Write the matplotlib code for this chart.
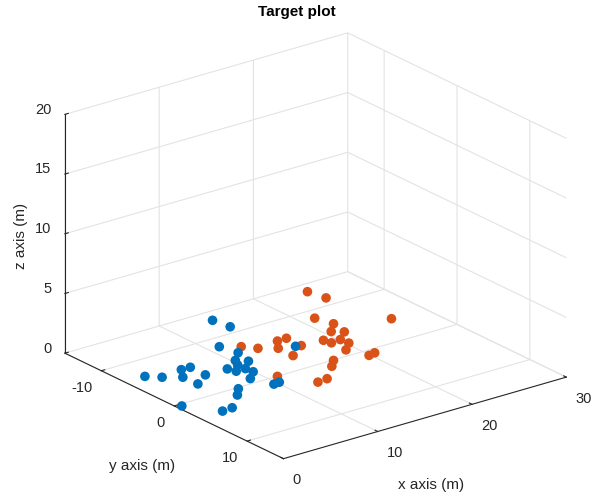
import matplotlib
matplotlib.use("Agg")
import matplotlib.pyplot as plt
import numpy as np

plt.rcParams['font.family'] = ['Liberation Sans', 'DejaVu Sans']
plt.rcParams['axes.unicode_minus'] = False

# target positions (m), two groups
blue_x = [9.4, 10.5, 9.5, 9.1, 9.5, 7.8, 8.2, 7.8, 7.4, 8.9, 8.3, 8.0, 3.0, 3.1,
          3.7, 4.7, 4.6, 1.3, 1.5, 5.8, 5.7, 0.5, 3.6, 2.5, 8.8, 8.6, 13.8]
blue_y = [-6.9, -5.9, -6.1, -3.0, -3.9, 0.1, -1.9, -2.8, 0.2, -3.0, 0.1, 0.1, -2.9, -1.8,
          -3.6, -1.8, -2.7, -5.7, -3.6, 1.3, 1.3, 0.4, 3.3, 3.4, 2.3, 3.3, -1.2]
blue_z = [3.0, 2.5, 1.0, 1.5, 0.5, 2.0, 1.0, 0.5, 1.5, 0.0, 1.0, 0.5, 1.5, 2.0,
          0.5, 1.0, 0.0, 0.5, 1.0, 0.5, 0.0, 0.0, 0.0, 0.0, 0.5, 1.0, 1.5]

orange_x = [18.0, 19.2, 21.5, 17.3, 18.6, 18.2, 18.2, 17.3, 18.3, 17.7, 18.6, 18.3, 19.9,
            19.8, 15.2, 15.1, 13.9, 12.0, 12.5, 14.3, 13.2, 15.1, 14.0, 10.2, 8.5, 10.1]
orange_y = [-5.0, -4.0, 2.0, -3.1, -2.2, -2.0, -0.2, -1.9, -2.1, -0.1, -0.1, -0.1, 1.0,
            1.9, 2.2, 2.1, 3.0, 4.2, -2.0, -3.1, -2.8, -2.1, -1.8, -1.7, -1.8, 1.1]
orange_z = [4.0, 3.5, 3.0, 2.5, 2.0, 1.5, 2.0, 1.0, 0.5, 1.5, 1.0, 0.5, 0.0,
            0.5, 1.0, 0.5, 0.0, 0.5, 2.0, 1.5, 1.0, 1.0, 0.5, 2.0, 2.5, 0.5]

x_ticks = [0, 10, 20, 30]
y_ticks = [-10, 0, 10]
z_ticks = [0, 5, 10, 15, 20]

axis_col = '#262626'
grid_col = '#e3e3e3'

fig = plt.figure(figsize=(5.94, 4.97), dpi=100)
ax = fig.add_axes([0.02, -0.008, 1.0, 1.0], projection='3d')
ax.set_proj_type('ortho')
ax.view_init(elev=21.9, azim=-127.7)
ax.set_box_aspect((1, 1, 0.72), zoom=1.108)

ax.scatter(blue_x, blue_y, blue_z, s=48, c='#0072BD', depthshade=False, edgecolors='none')
ax.scatter(orange_x, orange_y, orange_z, s=48, c='#D95319', depthshade=False, edgecolors='none')

ax.set_xlim(0, 30)
ax.set_ylim(15, -15)
ax.set_zlim(0, 20)
ax.set_xticks(x_ticks)
ax.set_yticks(y_ticks)
ax.set_zticks(z_ticks)

for a in (ax.xaxis, ax.yaxis, ax.zaxis):
    a.set_pane_color((1, 1, 1, 0))
    a.pane.set_edgecolor(grid_col)
    a.line.set_color(axis_col)
    a.line.set_linewidth(0.8)
    a._axinfo['grid']['color'] = grid_col
    a._axinfo['grid']['linewidth'] = 0.8
    a._axinfo['tick']['inward_factor'] = 0.0
    a._axinfo['tick']['outward_factor'] = 0.15
    a._axinfo['tick']['color'] = axis_col
ax.tick_params(colors=axis_col, labelsize=10.5)
ax.tick_params(axis='x', pad=0)
ax.tick_params(axis='y', pad=-2)
ax.tick_params(axis='z', pad=-3)
plt.setp(ax.get_xticklabels(), ha='left')
plt.setp(ax.get_yticklabels(), ha='right')
plt.setp(ax.get_zticklabels(), ha='right', va='baseline')

fig.text(0.5, 0.975, 'Target plot', ha='center', va='center', fontsize=11, fontweight='bold')
fig.text(0.725, 0.024, 'x axis (m)', ha='center', va='center', fontsize=11, color=axis_col)
fig.text(0.24, 0.062, 'y axis (m)', ha='center', va='center', fontsize=11, color=axis_col)
fig.text(0.036, 0.525, 'z axis (m)', ha='center', va='center', fontsize=11, color=axis_col,
         rotation=90)

fig.savefig('out.png', dpi=100)
